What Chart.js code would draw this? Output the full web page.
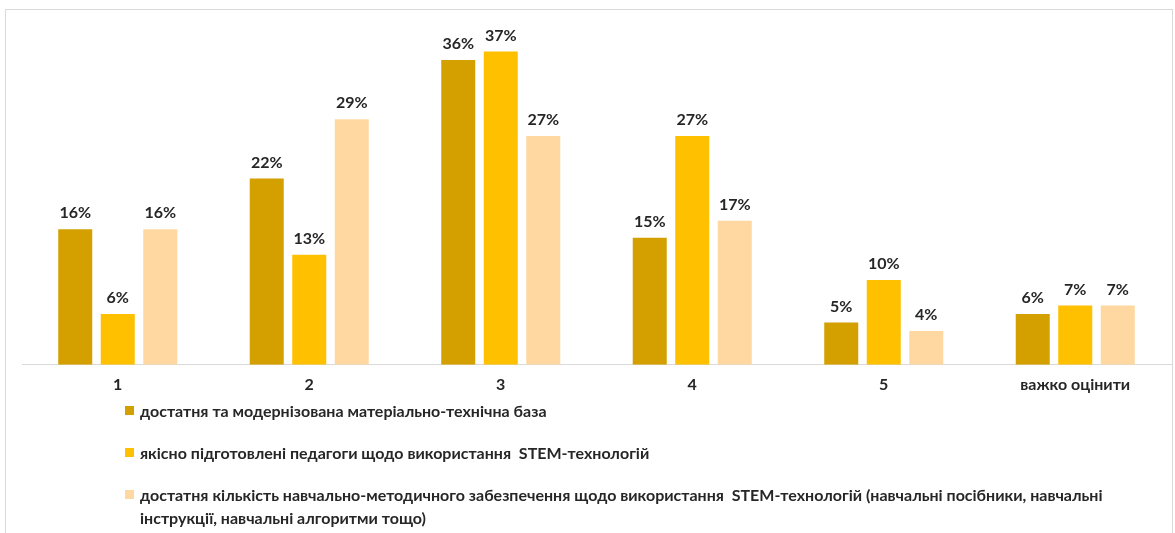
<!DOCTYPE html>
<html>
<head>
<meta charset="utf-8">
<script src="https://cdn.jsdelivr.net/npm/chart.js@4/dist/chart.umd.min.js"></script>
<style>
  html, body { margin: 0; padding: 0; background: #fff; overflow: hidden; }
  body { width: 1175px; height: 533px; position: relative; font-family: Lato, "Open Sans", sans-serif; }
  #frame { position: absolute; left: 5px; top: 9px; width: 1166px; height: 560px; border: 1px solid #d9d9d9; }
  #chartBox { position: absolute; left: 0; top: 0; width: 1175px; height: 404px; }
  #legend { position: absolute; left: 125px; top: 399px; width: 1040px; color: #262626; font-weight: bold; font-size: 16px; }
  .item { display: flex; align-items: flex-start; margin-bottom: 19px; line-height: 23px; }
  .box { width: 9px; height: 9px; margin-top: 7px; margin-right: 6px; flex: none; }
  .txt { white-space: pre; }
</style>
</head>
<body>
<div id="frame"></div>
<div id="chartBox"><canvas id="chart"></canvas></div>
<div id="legend"></div>
<script>
const categories = ["1", "2", "3", "4", "5", "важко оцінити"];

const baseValues = [16, 22, 36, 15, 5, 6];
const teachersValues = [6, 13, 37, 27, 10, 7];
const materialsValues = [16, 29, 27, 17, 4, 7];

const seriesNames = [
  ["достатня та модернізована матеріально-технічна база"],
  ["якісно підготовлені педагоги щодо використання  STEM-технологій"],
  ["достатня кількість навчально-методичного забезпечення щодо використання  STEM-технологій (навчальні посібники, навчальні",
   "інструкції, навчальні алгоритми тощо)"]
];

const colors = ["#D4A000", "#FFC000", "#FED8A0"];

// labels above bars
const valueLabels = {
  id: "valueLabels",
  afterDatasetsDraw(chart) {
    const ctx = chart.ctx;
    ctx.save();
    ctx.font = "bold 16px Lato, 'Open Sans', sans-serif";
    ctx.fillStyle = "#262626";
    ctx.textAlign = "center";
    ctx.textBaseline = "middle";
    chart.data.datasets.forEach((ds, i) => {
      chart.getDatasetMeta(i).data.forEach((bar, j) => {
        ctx.fillText(ds.data[j] + "%", bar.x, bar.y - 16);
      });
    });
    ctx.restore();
  }
};

const chart = new Chart(document.getElementById("chart"), {
  type: "bar",
  data: {
    labels: categories,
    datasets: [
      { label: seriesNames[0].join(" "), data: baseValues, backgroundColor: colors[0] },
      { label: seriesNames[1].join(" "), data: teachersValues, backgroundColor: colors[1] },
      { label: seriesNames[2].join(" "), data: materialsValues, backgroundColor: colors[2] }
    ]
  },
  options: {
    responsive: true,
    maintainAspectRatio: false,
    animation: false,
    layout: { padding: { top: 26, left: 22, right: 4, bottom: 0 } },
    datasets: { bar: { categoryPercentage: 0.666, barPercentage: 0.8 } },
    plugins: {
      legend: { display: false },
      tooltip: { enabled: false }
    },
    scales: {
      x: {
        grid: { display: false, drawTicks: false, tickLength: 0 },
        border: { display: true, color: "#d9d9d9", width: 1 },
        ticks: { color: "#262626", padding: 10, font: { family: "Lato", size: 16, weight: "bold" } }
      },
      y: { display: false, min: 0, max: 40 }
    }
  },
  plugins: [valueLabels]
});

// legend
const legend = document.getElementById("legend");
seriesNames.forEach((lines, i) => {
  const item = document.createElement("div");
  item.className = "item";
  const box = document.createElement("span");
  box.className = "box";
  box.style.background = colors[i];
  const txt = document.createElement("span");
  txt.className = "txt";
  txt.textContent = lines.join("\n");
  item.appendChild(box);
  item.appendChild(txt);
  legend.appendChild(item);
});
</script>
</body>
</html>
